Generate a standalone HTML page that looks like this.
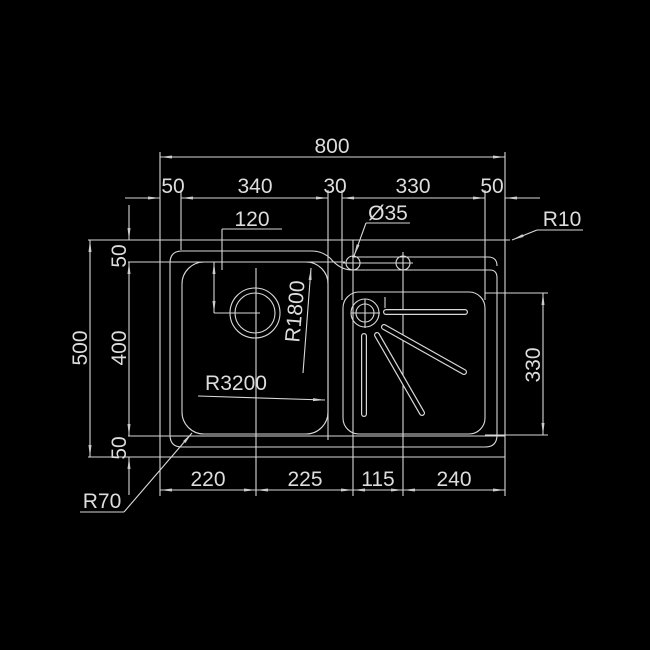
<!DOCTYPE html>
<html><head><style>body{margin:0;background:#000}svg{display:block}</style></head><body>
<svg width="650" height="650" viewBox="0 0 650 650" xmlns="http://www.w3.org/2000/svg">
<rect width="650" height="650" fill="#000"/>
<defs><marker id="a" markerWidth="12" markerHeight="6" refX="12" refY="3" orient="auto-start-reverse" markerUnits="userSpaceOnUse"><path d="M0,1.5 L12,3 L0,4.5Z" fill="#ccc"/></marker></defs>
<g stroke="#d8d8d8" stroke-width="1.1" fill="none">
<line x1="160" y1="152" x2="160" y2="496"/>
<line x1="505" y1="152" x2="505" y2="496"/>
<line x1="181" y1="190" x2="181" y2="250"/>
<line x1="328" y1="190" x2="328" y2="440"/>
<line x1="342" y1="190" x2="342" y2="300"/>
<line x1="485" y1="190" x2="485" y2="300"/>
<line x1="256" y1="268" x2="256" y2="496"/>
<line x1="353" y1="240" x2="353" y2="496"/>
<line x1="403" y1="252" x2="403" y2="496"/>
<line x1="88" y1="240" x2="510" y2="240"/>
<line x1="128" y1="262" x2="345" y2="262"/>
<line x1="128" y1="436" x2="505" y2="436"/>
<line x1="88" y1="457" x2="505" y2="457"/>
<line x1="485" y1="293" x2="548" y2="293"/>
<line x1="485" y1="435" x2="548" y2="435"/>
<line x1="160" y1="157" x2="505" y2="157" marker-start="url(#a)" marker-end="url(#a)"/>
<line x1="125" y1="198" x2="160" y2="198" marker-end="url(#a)"/>
<line x1="181" y1="198" x2="328" y2="198" marker-start="url(#a)" marker-end="url(#a)"/>
<line x1="342" y1="198" x2="485" y2="198" marker-start="url(#a)" marker-end="url(#a)"/>
<line x1="540" y1="198" x2="505" y2="198" marker-end="url(#a)"/>
<line x1="160" y1="490" x2="256" y2="490" marker-start="url(#a)" marker-end="url(#a)"/>
<line x1="256" y1="490" x2="353" y2="490" marker-start="url(#a)" marker-end="url(#a)"/>
<line x1="353" y1="490" x2="403" y2="490" marker-start="url(#a)" marker-end="url(#a)"/>
<line x1="403" y1="490" x2="505" y2="490" marker-start="url(#a)" marker-end="url(#a)"/>
<line x1="90" y1="240" x2="90" y2="457" marker-start="url(#a)" marker-end="url(#a)"/>
<line x1="129" y1="205" x2="129" y2="240" marker-end="url(#a)"/>
<line x1="129" y1="262" x2="129" y2="436" marker-start="url(#a)" marker-end="url(#a)"/>
<line x1="129" y1="495" x2="129" y2="457" marker-end="url(#a)"/>
<line x1="543" y1="293" x2="543" y2="435" marker-start="url(#a)" marker-end="url(#a)"/>
<line x1="214" y1="262" x2="214" y2="313" marker-start="url(#a)" marker-end="url(#a)"/>
<line x1="214" y1="313" x2="260" y2="313"/>
<line x1="222" y1="229" x2="282" y2="229"/>
<line x1="222" y1="229" x2="222" y2="270"/>
<polyline points="583,230 537,230"/><line x1="537" y1="230" x2="512" y2="240" marker-end="url(#a)"/>
<polyline points="410,223 366,223"/><line x1="366" y1="223" x2="354" y2="256" marker-end="url(#a)"/>
<polyline points="80,512 124,512"/><line x1="124" y1="512" x2="192" y2="433" marker-end="url(#a)"/>
<line x1="198" y1="396" x2="325" y2="400" marker-end="url(#a)"/>
<line x1="303" y1="373" x2="311" y2="268" marker-end="url(#a)"/>
<path d="M182,251 H312 Q322,251 330,258 Q340,270 352,270 H490 Q497,270 497,278 V435 Q497,447 485,447 H182 Q170,447 170,435 V263 Q170,251 182,251Z"/>
<path d="M352,257 H488 Q497,257 497,266"/>
<rect x="182" y="262" width="146" height="172" rx="22"/>
<rect x="343" y="292" width="142" height="142" rx="16"/>
<circle cx="255" cy="313" r="25"/><circle cx="255" cy="313" r="20"/>
<circle cx="365" cy="313" r="14"/><circle cx="365" cy="313" r="9"/>
<line x1="351" y1="313" x2="380" y2="313"/><line x1="365" y1="299" x2="365" y2="328"/>
<circle cx="353" cy="263" r="7"/><circle cx="403" cy="263" r="7"/>
<line x1="343" y1="263" x2="413" y2="263"/>
<line x1="385" y1="297" x2="385" y2="308"/>
</g>
<g stroke-linecap="round">
<g stroke="#d8d8d8" stroke-width="6">
<line x1="386" y1="312" x2="465" y2="312"/>
<line x1="384" y1="327" x2="464" y2="372"/>
<line x1="377" y1="335" x2="422" y2="413"/>
<line x1="364" y1="336" x2="364" y2="414"/>
</g>
<g stroke="#000" stroke-width="3.6">
<line x1="386" y1="312" x2="465" y2="312"/>
<line x1="384" y1="327" x2="464" y2="372"/>
<line x1="377" y1="335" x2="422" y2="413"/>
<line x1="364" y1="336" x2="364" y2="414"/>
</g>
</g>
<g fill="#ddd" font-family="Liberation Sans, sans-serif" font-size="21">
<text x="332" y="153" text-anchor="middle">800</text>
<text x="173" y="193" text-anchor="middle">50</text>
<text x="255" y="193" text-anchor="middle">340</text>
<text x="335" y="193" text-anchor="middle">30</text>
<text x="413" y="193" text-anchor="middle">330</text>
<text x="492" y="193" text-anchor="middle">50</text>
<text x="252" y="226" text-anchor="middle">120</text>
<text x="388" y="220" text-anchor="middle">Ø35</text>
<text x="562" y="226" text-anchor="middle">R10</text>
<text x="208" y="486" text-anchor="middle">220</text>
<text x="305" y="486" text-anchor="middle">225</text>
<text x="378" y="486" text-anchor="middle">115</text>
<text x="454" y="486" text-anchor="middle">240</text>
<text x="102" y="508" text-anchor="middle">R70</text>
<text x="236" y="390" text-anchor="middle">R3200</text>
<text transform="translate(87,348) rotate(-90)" text-anchor="middle">500</text>
<text transform="translate(126,348) rotate(-90)" text-anchor="middle">400</text>
<text transform="translate(126,256) rotate(-90)" text-anchor="middle">50</text>
<text transform="translate(126,448) rotate(-90)" text-anchor="middle">50</text>
<text transform="translate(540,365) rotate(-90)" text-anchor="middle">330</text>
<text transform="translate(302,312) rotate(-85)" text-anchor="middle">R1800</text>
</g>
</svg>
</body></html>
